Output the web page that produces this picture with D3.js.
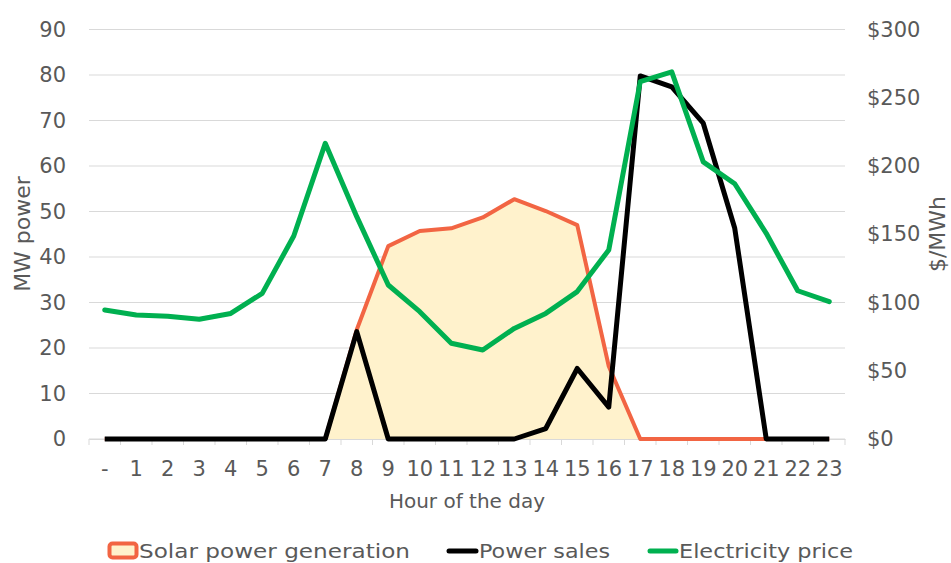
<!DOCTYPE html>
<html>
<head>
<meta charset="utf-8">
<script src="https://cdn.jsdelivr.net/npm/d3@7"></script>
<style>
  body { margin: 0; background: #fff; }
  text { font-family: "DejaVu Sans", sans-serif; fill: #595959; }
</style>
</head>
<body>
<div id="chart"></div>
<script>
// chart data
var hours = ["-", "1", "2", "3", "4", "5", "6", "7", "8", "9", "10", "11", "12",
  "13", "14", "15", "16", "17", "18", "19", "20", "21", "22", "23"];
var solar = [0, 0, 0, 0, 0, 0, 0, 0, 24, 42.4, 45.7, 46.3, 48.7, 52.7, 50.1, 47, 16,
  0, 0, 0, 0, 0, 0, 0];
var sales = [0, 0, 0, 0, 0, 0, 0, 0, 23.6, 0, 0, 0, 0, 0, 2.3, 15.5, 7,
  79.8, 77.4, 69.4, 46.3, 0, 0, 0];
var price = [94.5, 90.8, 90, 87.7, 92, 106.7, 148.7, 216.6, 162.9, 112.8, 93.3, 70.1,
  65.2, 81, 92, 108, 138.5, 261.8, 269, 203, 187, 150.7, 108.6, 100.6];
var leftTicks = [0, 10, 20, 30, 40, 50, 60, 70, 80, 90];
var rightTicks = [0, 50, 100, 150, 200, 250, 300];

var width = 951, height = 563;
var margin = {top: 29.5, right: 106, bottom: 124, left: 89};

var svg = d3.select("#chart")
    .append("svg")
    .attr("width", width)
    .attr("height", height);

var x = d3.scaleBand()
    .domain(hours)
    .range([margin.left, width - margin.right]);

var y = d3.scaleLinear()
    .domain([0, 90])
    .range([height - margin.bottom, margin.top]);

var y2 = d3.scaleLinear()
    .domain([0, 300])
    .range([height - margin.bottom, margin.top]);

function cx(d, i) { return x(hours[i]) + x.bandwidth() / 2; }

//gridlines
svg.append("g")
    .selectAll("line")
    .data(leftTicks)
    .enter()
    .append("line")
    .attr("x1", margin.left)
    .attr("x2", width - margin.right)
    .attr("y1", function(d) { return y(d); })
    .attr("y2", function(d) { return y(d); })
    .attr("stroke", "#d9d9d9")
    .attr("stroke-width", 1);

//x axis with tick marks between categories
var xAxis = svg.append("g")
    .attr("transform", `translate(0, ${y(0)})`)
    .call(d3.axisBottom(x).tickSize(0).tickPadding(22));
xAxis.select(".domain").attr("stroke", "#d9d9d9");
xAxis.selectAll("text").style("font-size", "21px").attr("fill", "#595959");

var bounds = hours.map(function(h) { return x(h); }).concat([width - margin.right]);
svg.append("g")
    .selectAll("line")
    .data(bounds)
    .enter()
    .append("line")
    .attr("x1", function(d) { return d; })
    .attr("x2", function(d) { return d; })
    .attr("y1", y(0))
    .attr("y2", y(0) + 6)
    .attr("stroke", "#d9d9d9");

//left axis labels
var yAxis = svg.append("g")
    .attr("transform", `translate(${margin.left}, 0)`)
    .call(d3.axisLeft(y).tickValues(leftTicks).tickSize(0).tickPadding(23));
yAxis.select(".domain").remove();
yAxis.selectAll("text").style("font-size", "21px").attr("fill", "#595959");

//right axis labels
var y2Axis = svg.append("g")
    .attr("transform", `translate(${width - margin.right}, 0)`)
    .call(d3.axisRight(y2).tickValues(rightTicks).tickSize(0).tickPadding(22)
      .tickFormat(function(d) { return "$" + d; }));
y2Axis.select(".domain").remove();
y2Axis.selectAll("text").style("font-size", "21px").attr("fill", "#595959");

//axis titles
svg.append("text")
    .attr("transform", `translate(30, 234) rotate(-90)`)
    .style("text-anchor", "middle")
    .style("font-size", "22px")
    .text("MW power");

svg.append("text")
    .attr("transform", `translate(945, 234) rotate(-90)`)
    .style("text-anchor", "middle")
    .style("font-size", "22px")
    .text("$/MWh");

svg.append("text")
    .attr("x", 467)
    .attr("y", 508)
    .style("text-anchor", "middle")
    .style("font-size", "20px")
    .text("Hour of the day");

//solar area
var area = d3.area()
    .x(cx)
    .y0(y(0))
    .y1(function(d) { return y(d); });

var topLine = d3.line()
    .x(cx)
    .y(function(d) { return y(d); });

svg.append("path")
    .datum(solar)
    .attr("d", area)
    .attr("fill", "#fff2cc");

svg.append("path")
    .datum(solar)
    .attr("d", topLine)
    .attr("fill", "none")
    .attr("stroke", "#f26543")
    .attr("stroke-width", 4)
    .attr("stroke-linejoin", "round");

//power sales
svg.append("path")
    .datum(sales)
    .attr("d", topLine)
    .attr("fill", "none")
    .attr("stroke", "#000")
    .attr("stroke-width", 5)
    .attr("stroke-linejoin", "round");

//electricity price on right axis
var priceLine = d3.line()
    .x(cx)
    .y(function(d) { return y2(d); });

svg.append("path")
    .datum(price)
    .attr("d", priceLine)
    .attr("fill", "none")
    .attr("stroke", "#00b050")
    .attr("stroke-width", 5)
    .attr("stroke-linejoin", "round")
    .attr("stroke-linecap", "round");

//legend
var legend = svg.append("g");

legend.append("rect")
    .attr("x", 109.5)
    .attr("y", 543.5)
    .attr("width", 27)
    .attr("height", 14)
    .attr("rx", 3)
    .attr("fill", "#fff2cc")
    .attr("stroke", "#f26543")
    .attr("stroke-width", 4);

legend.append("text")
    .attr("x", 139)
    .attr("y", 558)
    .attr("textLength", 271)
    .attr("lengthAdjust", "spacingAndGlyphs")
    .style("font-size", "20px")
    .text("Solar power generation");

legend.append("line")
    .attr("x1", 449).attr("x2", 476)
    .attr("y1", 551).attr("y2", 551)
    .attr("stroke", "#000")
    .attr("stroke-width", 5)
    .attr("stroke-linecap", "round");

legend.append("text")
    .attr("x", 479)
    .attr("y", 558)
    .attr("textLength", 131)
    .attr("lengthAdjust", "spacingAndGlyphs")
    .style("font-size", "20px")
    .text("Power sales");

legend.append("line")
    .attr("x1", 650).attr("x2", 676)
    .attr("y1", 551).attr("y2", 551)
    .attr("stroke", "#00b050")
    .attr("stroke-width", 5)
    .attr("stroke-linecap", "round");

legend.append("text")
    .attr("x", 679)
    .attr("y", 558)
    .attr("textLength", 174)
    .attr("lengthAdjust", "spacingAndGlyphs")
    .style("font-size", "20px")
    .text("Electricity price");
</script>
</body>
</html>
